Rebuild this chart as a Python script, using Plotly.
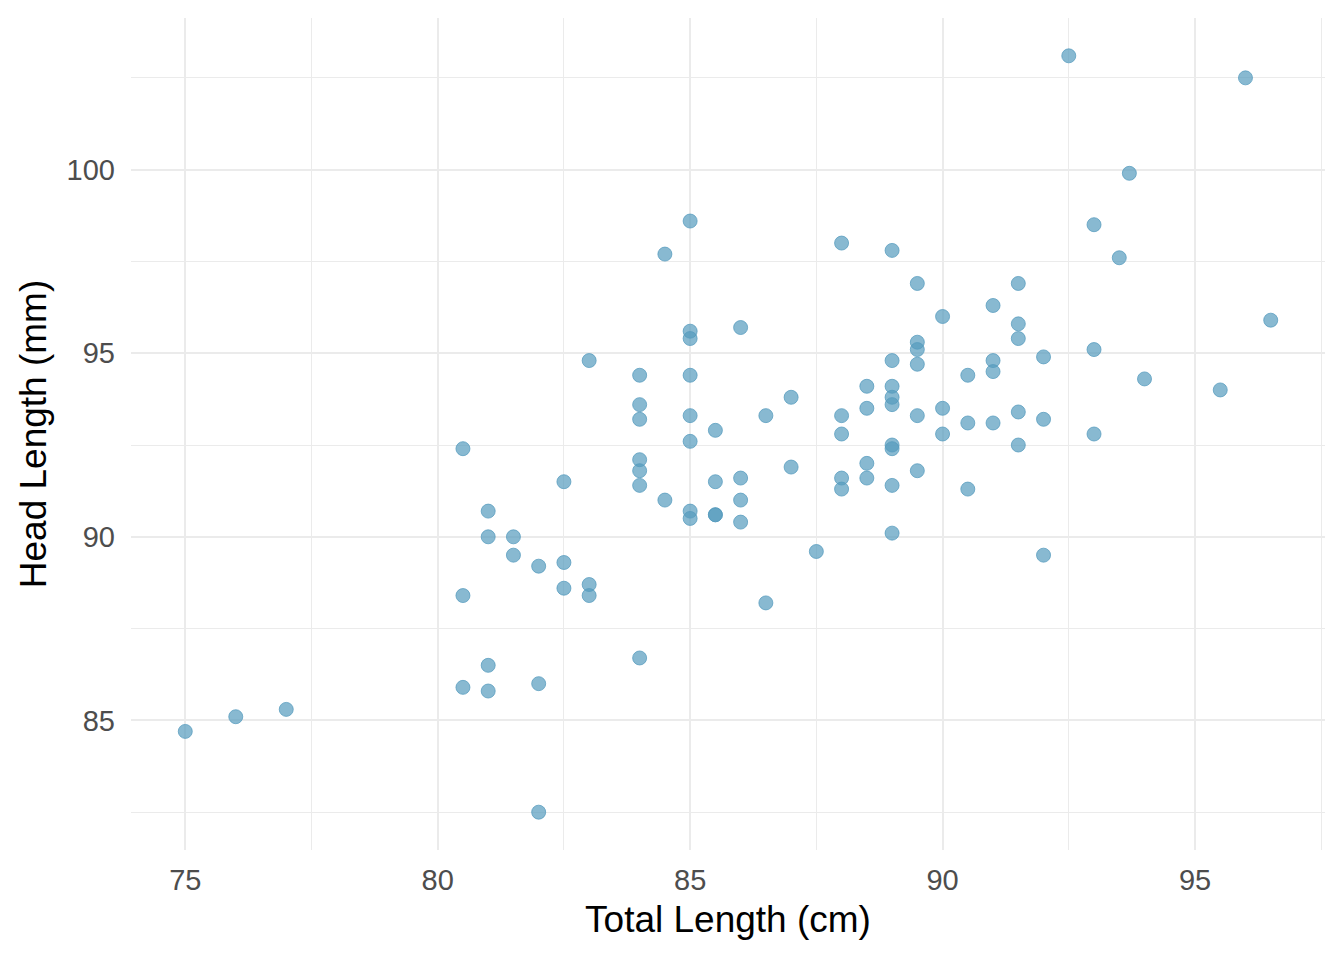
import plotly.graph_objects as go

total_length = [
    75, 76, 77,
    80.5, 80.5, 80.5,
    81, 81, 81, 81,
    81.5, 81.5,
    82, 82, 82,
    82.5, 82.5, 82.5,
    83, 83, 83,
    84, 84, 84, 84, 84, 84, 84,
    84.5, 84.5,
    85, 85, 85, 85, 85, 85, 85, 85,
    85.5, 85.5, 85.5, 85.5,
    86, 86, 86, 86,
    86.5, 86.5,
    87, 87,
    87.5,
    88, 88, 88, 88, 88,
    88.5, 88.5, 88.5, 88.5,
    89, 89, 89, 89, 89, 89, 89, 89, 89,
    89.5, 89.5, 89.5, 89.5, 89.5, 89.5,
    90, 90, 90,
    90.5, 90.5, 90.5,
    91, 91, 91, 91,
    91.5, 91.5, 91.5, 91.5, 91.5,
    92, 92, 92,
    92.5,
    93, 93, 93,
    93.5, 93.7, 94, 95.5, 96, 96.5,
]
head_length = [
    84.7, 85.1, 85.3,
    92.4, 88.4, 85.9,
    90.7, 90.0, 86.5, 85.8,
    90.0, 89.5,
    89.2, 86.0, 82.5,
    91.5, 89.3, 88.6,
    94.8, 88.7, 88.4,
    94.4, 93.6, 93.2, 92.1, 91.8, 91.4, 86.7,
    97.7, 91.0,
    98.6, 95.6, 95.4, 94.4, 93.3, 92.6, 90.7, 90.5,
    92.9, 91.5, 90.6, 90.6,
    95.7, 91.6, 91.0, 90.4,
    93.3, 88.2,
    93.8, 91.9,
    89.6,
    98.0, 93.3, 92.8, 91.6, 91.3,
    94.1, 93.5, 92.0, 91.6,
    97.8, 94.8, 94.1, 93.8, 93.6, 92.5, 92.4, 91.4, 90.1,
    96.9, 95.3, 95.1, 94.7, 93.3, 91.8,
    96.0, 93.5, 92.8,
    94.4, 93.1, 91.3,
    96.3, 94.8, 94.5, 93.1,
    96.9, 95.8, 95.4, 93.4, 92.5,
    94.9, 93.2, 89.5,
    103.1,
    98.5, 95.1, 92.8,
    97.6, 99.9, 94.3, 94.0, 102.5, 95.9,
]

x_ticks = [75, 80, 85, 90, 95]
y_ticks = [85, 90, 95, 100]

fig = go.Figure()
fig.add_trace(go.Scatter(
    x=total_length, y=head_length, mode="markers",
    marker=dict(size=14, color="rgba(86,155,189,0.7)",
                line=dict(width=1, color="rgba(86,155,189,0.75)")),
    hoverinfo="x+y", showlegend=False,
))

axis_common = dict(
    showgrid=True, gridcolor="#EBEBEB", gridwidth=2.2,
    zeroline=False, showline=False, ticks="",
    tickfont=dict(family="Liberation Sans", size=29, color="#4D4D4D"),
    minor=dict(showgrid=True, gridcolor="#EBEBEB", gridwidth=1.1, ticks=""),
)

fig.update_xaxes(
    **axis_common, range=[73.925, 97.575],
    tickvals=x_ticks, ticktext=[str(v) for v in x_ticks],
    minor_dtick=5, minor_tick0=77.5,
    ticklabelstandoff=10,
    title=dict(text="Total Length (cm)", standoff=11,
               font=dict(family="Liberation Sans", size=37, color="black")),
)
fig.update_yaxes(
    **axis_common, range=[81.47, 104.13],
    tickvals=y_ticks, ticktext=[str(v) for v in y_ticks],
    minor_dtick=5, minor_tick0=82.5,
    ticklabelstandoff=15,
    title=dict(text="Head Length (mm)", standoff=8,
               font=dict(family="Liberation Sans", size=37, color="black")),
)

# the page body adds 8px, so the figure is drawn 8px smaller with margins shifted
fig.update_layout(
    width=1336, height=952,
    margin=dict(l=123, r=19, t=10, b=110),
    plot_bgcolor="white", paper_bgcolor="white",
)

fig.write_html("out.html")
